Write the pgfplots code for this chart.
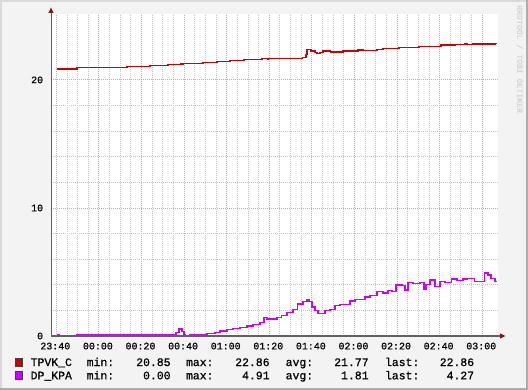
\documentclass[border=0pt]{standalone}
\usepackage{fontspec}
\setmainfont{Liberation Mono}[FakeBold=0.7]
\usepackage{pgfplots}
\pgfplotsset{compat=1.18}
\usetikzlibrary{arrows.meta}
\definecolor{canvas}{HTML}{F3F3F3}
\definecolor{redline}{HTML}{CC0000}
\definecolor{purp}{HTML}{CC00FF}
\definecolor{majgrid}{HTML}{EE9A9A}
\definecolor{mingrid}{HTML}{C4C4C4}
\definecolor{arrowred}{HTML}{801818}
\definecolor{axisgray}{HTML}{606060}
\definecolor{wmark}{HTML}{D2D2D2}
\begin{document}
\begin{tikzpicture}
\useasboundingbox (0bp,0bp) rectangle (528bp,390bp);
\fill[canvas] (0bp,0bp) rectangle (528bp,390bp);
\fill[gray!30] (0bp,0bp) rectangle (2bp,390bp);
\fill[gray!30] (0bp,388bp) rectangle (528bp,390bp);
\fill[gray!65] (526bp,0bp) rectangle (528bp,390bp);
\fill[gray!65] (0bp,0bp) rectangle (528bp,2bp);
\begin{axis}[
  at={(51bp,54bp)}, anchor=south west,
  scale only axis, width=447bp, height=322bp,
  xmin=-2.5, xmax=207.4, ymin=0, ymax=25.15,
  axis background/.style={fill=white},
  axis line style={draw=none},
  xtick={0,20,...,200},
  xticklabels={23:40,00:00,00:20,00:40,01:00,01:20,01:40,02:00,02:20,02:40,03:00},
  ytick={0,10,20}, yticklabels={0,10,20},
  minor x tick num=3, minor y tick num=4,
  grid=both,
  major grid style={majgrid, dash pattern=on 1bp off 1bp, line width=0.9bp},
  minor grid style={mingrid, dash pattern=on 1bp off 1bp, line width=0.9bp},
  major tick length=0pt, minor tick length=0pt,
  tick align=inside,
  ticklabel style={font=\fontsize{10}{10}\selectfont, inner sep=0pt},
  xticklabel style={anchor=north, yshift=-6.5bp, xshift=-1bp},
  yticklabel style={anchor=east, xshift=-7.7bp},
]
\addplot[const plot, redline, line width=1.3bp] coordinates {
(0.3,20.86) (9.7,20.96) (33.2,21.04) (44.0,21.12) (52.4,21.20) (58.5,21.25)
(59.5,21.30) (68.9,21.38) (75.4,21.46) (81.5,21.54) (88.1,21.62) (96.6,21.70)
(99.1,21.64) (99.6,21.70) (115.5,21.77) (117.3,22.00) (117.7,22.37) (119.6,22.27)
(121.5,22.16) (122.4,22.08) (123.8,22.16) (125.2,22.27) (128.9,22.19) (134.6,22.27)
(141.6,22.34) (143.1,22.40) (144.0,22.32) (150.6,22.40) (153.4,22.48) (160.9,22.55)
(170.3,22.63) (180.6,22.72) (187.6,22.79) (191.9,22.86) (192.8,22.79) (195.2,22.75)
(195.6,22.80) (206.0,22.86) (206.9,22.86)
};
\addplot[const plot, purp, line width=1.3bp] coordinates {
(0.3,0.08) (1.3,0.0) (9.7,0.08) (56.2,0.3) (57.6,0.55) (59.0,0.35) (59.9,0.13)
(60.8,0.05) (62.8,0.13) (70.8,0.2) (74.5,0.3) (76.8,0.4) (80.1,0.5) (82.9,0.6)
(86.2,0.68) (89.5,0.78) (92.3,0.91) (95.6,1.04) (97.5,1.43) (98.9,1.33)
(103.6,1.43) (105.9,1.58) (108.3,1.82) (111.1,2.08) (113.4,2.5) (115.8,2.68)
(117.7,2.86) (118.6,2.68) (120.0,2.27) (121.5,1.98) (122.9,1.77) (126.2,1.98)
(128.5,2.06) (130.9,2.4) (133.2,2.45) (137.9,2.73) (140.2,2.85) (145.0,3.05)
(147.3,3.15) (150.6,3.46) (153.4,3.36) (155.7,3.56) (157.6,3.5) (159.5,3.98)
(162.3,3.92) (163.7,3.6) (165.1,4.19) (167.5,4.1) (170.8,4.19) (172.6,3.67)
(173.6,4.03) (175.4,4.37) (177.8,3.84) (180.1,4.25) (182.5,4.16) (185.7,4.45)
(188.1,4.35) (190.9,4.45) (193.2,4.5) (196.5,4.25) (198.9,4.25) (201.2,4.91)
(202.7,4.77) (204.1,4.5) (206.0,4.27) (206.9,4.27)
};
\end{axis}
% axis lines with arrows
\draw[axisgray, line width=1bp] (51bp,54bp) -- (51bp,378bp);
\fill[arrowred] (48.3bp,377bp) -- (53.7bp,377bp) -- (51bp,382.5bp) -- cycle;
\draw[axisgray, line width=1.2bp] (51bp,54bp) -- (501bp,54bp);
\fill[arrowred] (500bp,56.7bp) -- (500bp,51.3bp) -- (505.5bp,54bp) -- cycle;
% watermark
\node[rotate=-90, anchor=west, inner sep=0pt, text=wmark, font=\fontsize{8.2}{8.2}\selectfont] at (520bp,385bp) {RRDTOOL / TOBI OETIKER};
% legend
\filldraw[fill=redline, draw=black!75, line width=0.6bp] (15.3bp,23.3bp) rectangle (22.7bp,31.7bp);
\filldraw[fill=purp, draw=black!75, line width=0.6bp] (15.3bp,10.3bp) rectangle (22.7bp,18.7bp);
\begin{scope}[every node/.style={inner sep=0pt, font=\fontsize{11.5}{11.5}\selectfont}]
\node[anchor=base west] at (30.5bp,24bp) {TPVK\_C};
\node[anchor=base west] at (86.5bp,24bp) {min:};
\node[anchor=base east] at (170.8bp,24bp) {20.85};
\node[anchor=base west] at (185.8bp,24bp) {max:};
\node[anchor=base east] at (269.8bp,24bp) {22.86};
\node[anchor=base west] at (285.5bp,24bp) {avg:};
\node[anchor=base east] at (368.8bp,24bp) {21.77};
\node[anchor=base west] at (384.8bp,24bp) {last:};
\node[anchor=base east] at (474.3bp,24bp) {22.86};
\node[anchor=base west] at (30.5bp,10.7bp) {DP\_KPA};
\node[anchor=base west] at (86.5bp,10.7bp) {min:};
\node[anchor=base east] at (170.8bp,10.7bp) {0.00};
\node[anchor=base west] at (185.8bp,10.7bp) {max:};
\node[anchor=base east] at (269.8bp,10.7bp) {4.91};
\node[anchor=base west] at (285.5bp,10.7bp) {avg:};
\node[anchor=base east] at (368.8bp,10.7bp) {1.81};
\node[anchor=base west] at (384.8bp,10.7bp) {last:};
\node[anchor=base east] at (474.3bp,10.7bp) {4.27};
\end{scope}
\end{tikzpicture}
\end{document}
